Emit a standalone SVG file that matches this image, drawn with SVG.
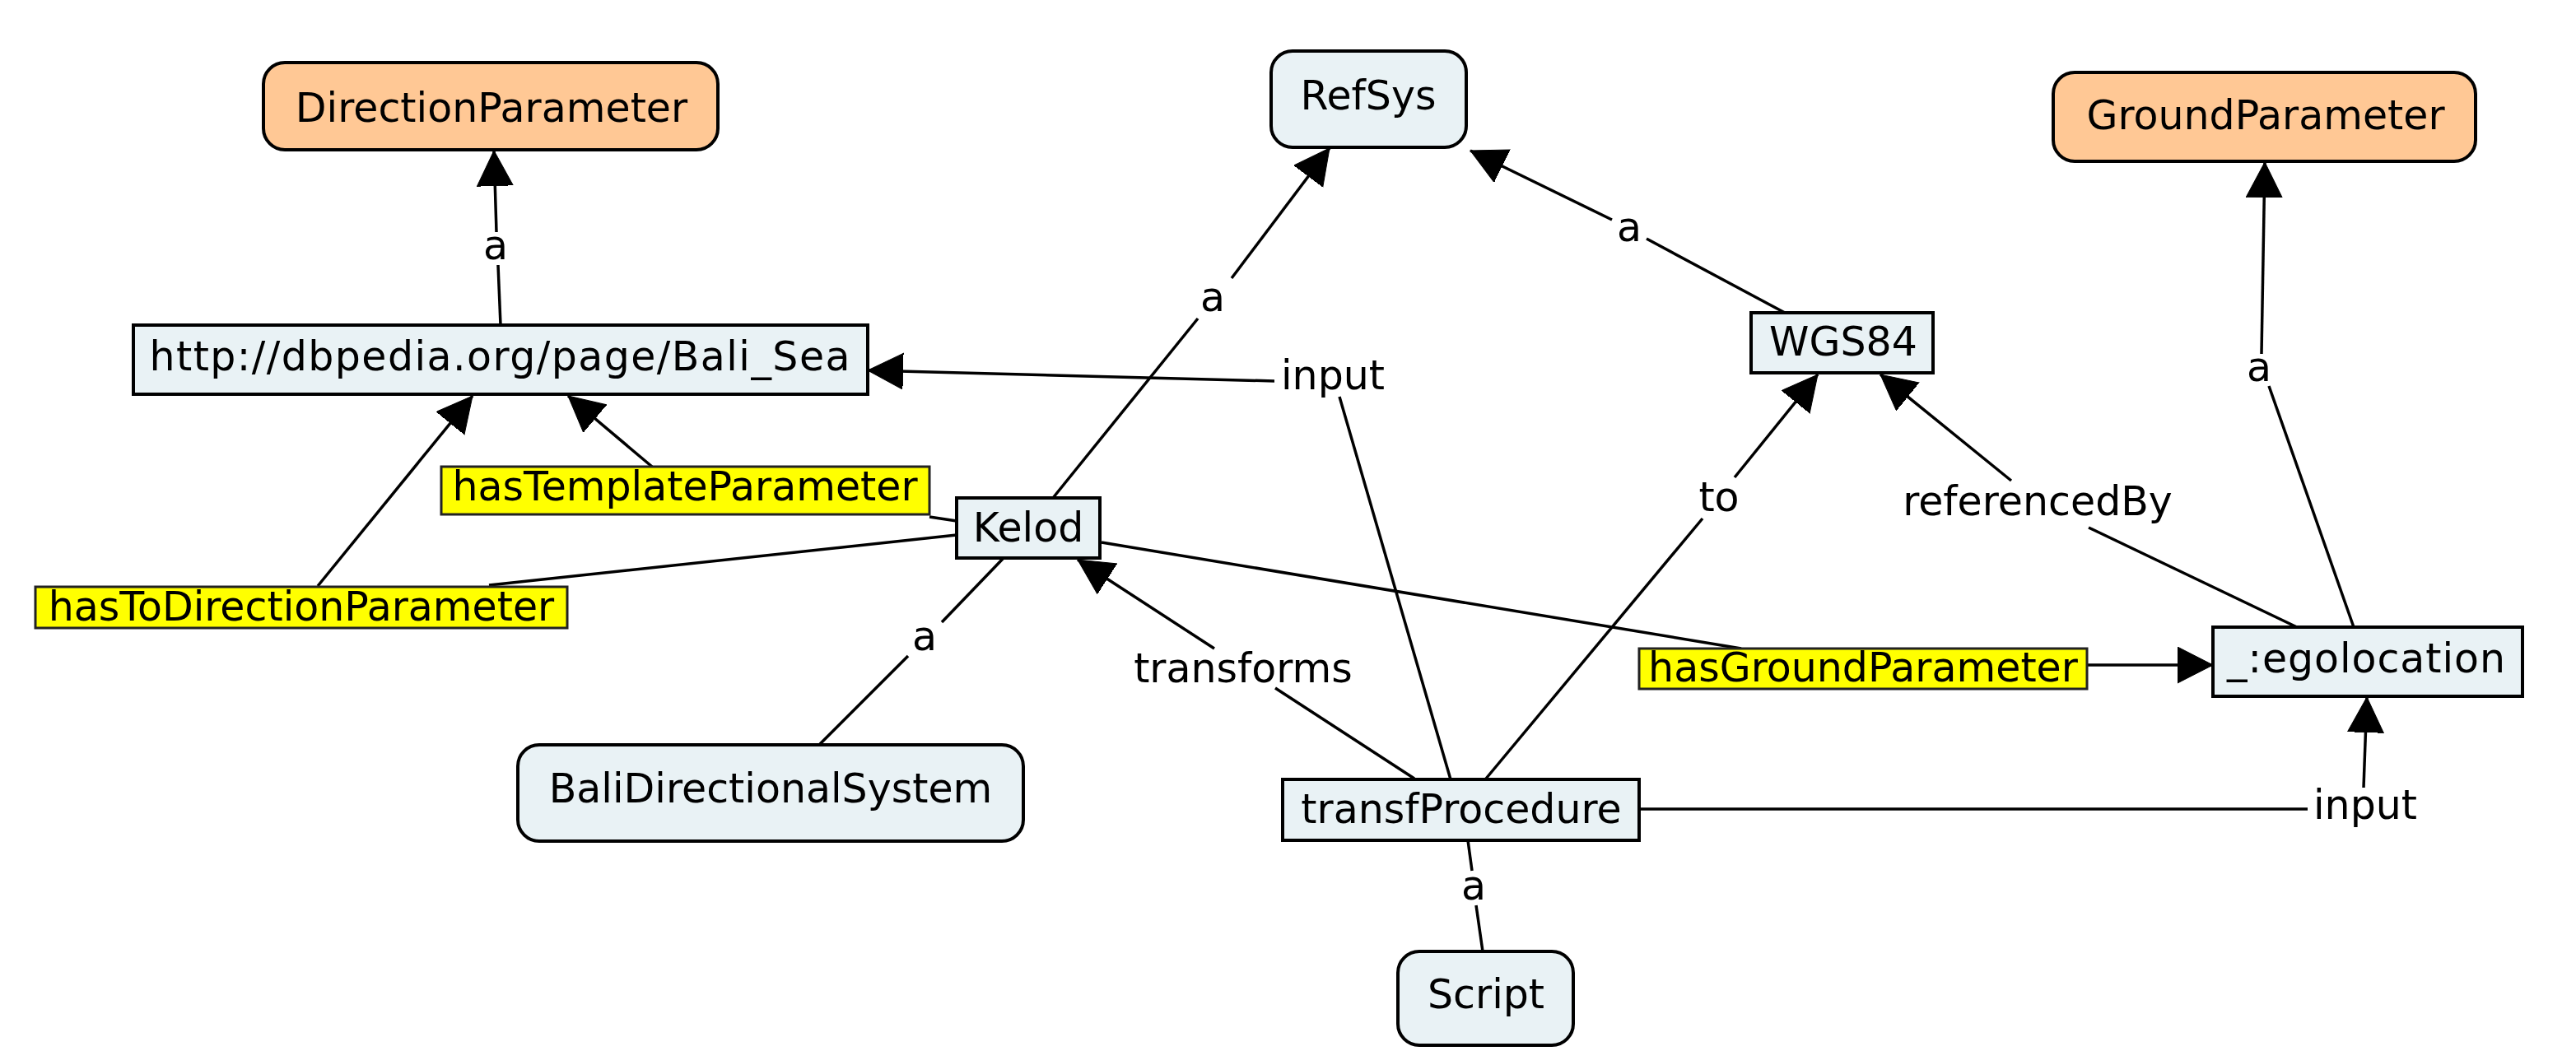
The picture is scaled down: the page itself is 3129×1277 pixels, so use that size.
<svg xmlns="http://www.w3.org/2000/svg" width="3129" height="1277" viewBox="0 0 3129 1277">
<style>
text{font-family:"DejaVu Sans","Liberation Sans",sans-serif;font-size:49px;fill:#000;text-anchor:middle}
.node{fill:#E9F2F5;stroke:#000;stroke-width:4}
.cls{fill:#FFC895;stroke:#000;stroke-width:4}
.hl{fill:#FFFF00;stroke:#222;stroke-width:3}
.e{fill:none;stroke:#000;stroke-width:3.5}
</style>
<defs>
<marker id="ar" markerUnits="userSpaceOnUse" markerWidth="50" markerHeight="50" refX="43" refY="22" orient="auto">
<path d="M0,0 L43,22 L0,44 z" fill="#000" stroke="#000" stroke-width="1"/>
</marker>
</defs>
<rect width="3129" height="1277" fill="#fff"/>
<g id="connectors">
<line class="e" x1="608" y1="395" x2="605" y2="322"/>
<line class="e" x1="603" y1="282" x2="600" y2="183" marker-end="url(#ar)"/>
<line class="e" x1="1279" y1="605" x2="1455" y2="387"/>
<line class="e" x1="1496" y1="338" x2="1615" y2="180" marker-end="url(#ar)"/>
<line class="e" x1="2168" y1="380" x2="2000" y2="290"/>
<line class="e" x1="1958" y1="267" x2="1786" y2="183" marker-end="url(#ar)"/>
<line class="e" x1="1762" y1="947" x2="1627" y2="482"/>
<line class="e" x1="1548" y1="463" x2="1054" y2="450" marker-end="url(#ar)"/>
<line class="e" x1="1162" y1="633" x2="1129" y2="628"/>
<line class="e" x1="792" y1="567" x2="690" y2="481" marker-end="url(#ar)"/>
<line class="e" x1="1162" y1="650" x2="594" y2="711"/>
<line class="e" x1="386" y1="712" x2="574" y2="481" marker-end="url(#ar)"/>
<line class="e" x1="1218" y1="679" x2="1144" y2="756"/>
<line class="e" x1="1103" y1="797" x2="996" y2="904"/>
<line class="e" x1="1718" y1="946" x2="1549" y2="836"/>
<line class="e" x1="1475" y1="788" x2="1309" y2="680" marker-end="url(#ar)"/>
<line class="e" x1="1338" y1="659" x2="2115" y2="788"/>
<line class="e" x1="2535" y1="808" x2="2688" y2="808" marker-end="url(#ar)"/>
<line class="e" x1="1805" y1="946" x2="2068" y2="630"/>
<line class="e" x1="2107" y1="580" x2="2208" y2="455" marker-end="url(#ar)"/>
<line class="e" x1="2790" y1="762" x2="2537" y2="641"/>
<line class="e" x1="2443" y1="584" x2="2284" y2="455" marker-end="url(#ar)"/>
<line class="e" x1="2859" y1="762" x2="2756" y2="469"/>
<line class="e" x1="2747" y1="430" x2="2751" y2="197" marker-end="url(#ar)"/>
<line class="e" x1="1991" y1="983" x2="2803" y2="983"/>
<line class="e" x1="2871" y1="957" x2="2875" y2="847" marker-end="url(#ar)"/>
<line class="e" x1="1783" y1="1021" x2="1788" y2="1058"/>
<line class="e" x1="1793" y1="1100" x2="1801" y2="1156"/>
<text x="602" y="315">a</text>
<text x="1473" y="378">a</text>
<text x="1979" y="293">a</text>
<text x="1619" y="473">input</text>
<text x="2744" y="463">a</text>
<text x="2088" y="621">to</text>
<text x="2475" y="626">referencedBy</text>
<text x="1123" y="790">a</text>
<text x="1510" y="829">transforms</text>
<text x="2873" y="995">input</text>
<text x="1790" y="1093">a</text>
</g>
<g id="n-DirectionParameter"><rect class="cls" x="320" y="76" width="552" height="106" rx="26"/><text x="597" y="148">DirectionParameter</text></g>
<g id="n-BaliSea"><rect class="node" x="162" y="395" width="892" height="84"/><text x="607" y="450" textLength="851" lengthAdjust="spacing">http://dbpedia.org/page/Bali_Sea</text></g>
<g id="n-RefSys"><rect class="node" x="1544" y="62" width="237" height="117" rx="26"/><text x="1662" y="133">RefSys</text></g>
<g id="n-GroundParameter"><rect class="cls" x="2494" y="88" width="513" height="108" rx="26"/><text x="2752" y="157">GroundParameter</text></g>
<g id="n-WGS84"><rect class="node" x="2127" y="380" width="221" height="73"/><text x="2239" y="432">WGS84</text></g>
<g id="n-Kelod"><rect class="node" x="1162" y="605" width="174" height="73"/><text x="1249" y="658">Kelod</text></g>
<g id="n-hasTemplateParameter"><rect class="hl" x="536" y="567" width="593" height="58"/><text x="832" y="608">hasTemplateParameter</text></g>
<g id="n-hasToDirectionParameter"><rect class="hl" x="43" y="713" width="646" height="50"/><text x="366" y="754">hasToDirectionParameter</text></g>
<g id="n-BaliDirectionalSystem"><rect class="node" x="629" y="905" width="614" height="117" rx="26"/><text x="936" y="975">BaliDirectionalSystem</text></g>
<g id="n-transfProcedure"><rect class="node" x="1558" y="947" width="433" height="74"/><text x="1775" y="1000">transfProcedure</text></g>
<g id="n-Script"><rect class="node" x="1698" y="1156" width="213" height="114" rx="26"/><text x="1805" y="1225">Script</text></g>
<g id="n-egolocation"><rect class="node" x="2688" y="762" width="376" height="84"/><text x="2874" y="817" textLength="338" lengthAdjust="spacing">_:egolocation</text></g>
<g id="n-hasGroundParameter"><rect class="hl" x="1991" y="788" width="544" height="49"/><text x="2263" y="828">hasGroundParameter</text></g>
</svg>
